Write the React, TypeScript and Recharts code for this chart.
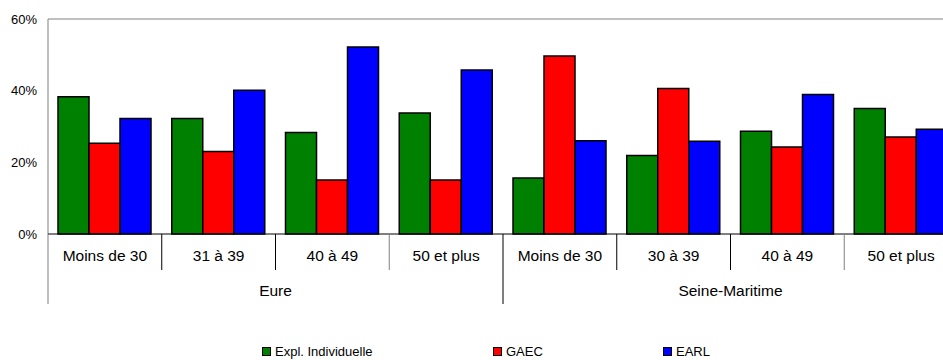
import { BarChart, Bar, XAxis, YAxis, ReferenceLine } from 'recharts'

const ages = ['Moins de 30', '31 à 39', '40 à 49', '50 et plus', 'Moins de 30', '30 à 39', '40 à 49', '50 et plus']
const regions = ['Eure', 'Eure', 'Eure', 'Eure', 'Seine-Maritime', 'Seine-Maritime', 'Seine-Maritime', 'Seine-Maritime']
const individuelle = [38.3, 32.2, 28.3, 33.8, 15.6, 21.9, 28.7, 35.0]
const gaec = [25.3, 23.0, 15.1, 15.1, 49.7, 40.6, 24.3, 27.1]
const earl = [32.2, 40.1, 52.2, 45.8, 26.0, 25.9, 38.9, 29.2]
const yTicks = [0, 20, 40, 60]

const data = ages.map((age, i) => ({
  key: `${regions[i]}-${age}`,
  age,
  region: regions[i],
  individuelle: individuelle[i],
  gaec: gaec[i],
  earl: earl[i],
}))

const FONT = '"Liberation Sans", Arial, sans-serif'
const CHART_W = 970
const PLOT_LEFT = 48
const PLOT_RIGHT = 958
const PLOT_TOP = 19
const PLOT_BOTTOM = 234
const HALF_BAND = (PLOT_RIGHT - PLOT_LEFT) / ages.length / 2

function AgeTick(props: any) {
  const { x, payload } = props
  const i = payload.index
  const right = x + HALF_BAND
  const endOfGroup = i === 3 || i === 7
  return (
    <g>
      {i === 0 && (
        <line x1={x - HALF_BAND} x2={x - HALF_BAND} y1={PLOT_BOTTOM} y2={304} stroke="#808080" />
      )}
      <line x1={right} x2={right} y1={PLOT_BOTTOM} y2={endOfGroup ? 304 : 270} stroke={i === 2 || i === 6 ? '#808080' : '#000'} />
      <text x={x} y={255} textAnchor="middle" dominantBaseline="central" fontSize={15.5} fontFamily={FONT} fill="#000">
        {payload.value}
      </text>
      {(i === 1 || i === 5) && (
        <text x={right} y={290} textAnchor="middle" dominantBaseline="central" fontSize={15.5} fontFamily={FONT} fill="#000">
          {regions[i]}
        </text>
      )}
    </g>
  )
}

const legendItems = [
  { label: 'Expl. Individuelle', color: '#008000', left: 262 },
  { label: 'GAEC', color: '#ff0000', left: 493 },
  { label: 'EARL', color: '#0000ff', left: 663 },
]

export default function App() {
  return (
    <div style={{ position: 'fixed', left: 0, top: 0, width: 943, height: 360, overflow: 'hidden', background: '#fff' }}>
      <BarChart
        width={CHART_W}
        height={360}
        data={data}
        margin={{ top: PLOT_TOP, right: CHART_W - PLOT_RIGHT, left: 0, bottom: 56 }}
        barCategoryGap="8.8%"
        barGap={0}
      >
        <YAxis
          width={PLOT_LEFT}
          domain={[0, 60]}
          ticks={yTicks}
          tickFormatter={(v) => `${v}%`}
          tickLine={false}
          tickSize={0}
          tickMargin={11}
          axisLine={{ stroke: '#808080' }}
          tick={{ fontSize: 13, fontFamily: FONT, fill: '#000' }}
        />
        <XAxis
          dataKey="key"
          height={70}
          interval={0}
          tickLine={false}
          axisLine={{ stroke: '#000' }}
          tick={(p: any) => <AgeTick {...p} payload={{ ...p.payload, value: ages[p.payload.index] }} />}
        />
        <ReferenceLine y={60} stroke="#808080" />
        <Bar dataKey="individuelle" fill="#008000" stroke="#000" strokeWidth={1.5} isAnimationActive={false} />
        <Bar dataKey="gaec" fill="#ff0000" stroke="#000" strokeWidth={1.5} isAnimationActive={false} />
        <Bar dataKey="earl" fill="#0000ff" stroke="#000" strokeWidth={1.5} isAnimationActive={false} />
      </BarChart>
      {legendItems.map((it) => (
        <div
          key={it.label}
          style={{ position: 'absolute', left: it.left, top: 344, display: 'flex', alignItems: 'center', fontFamily: FONT, fontSize: 13, color: '#000', whiteSpace: 'nowrap' }}
        >
          <span style={{ width: 7, height: 7, border: '1px solid #000', background: it.color, marginRight: 4, display: 'inline-block' }} />
          {it.label}
        </div>
      ))}
    </div>
  )
}
